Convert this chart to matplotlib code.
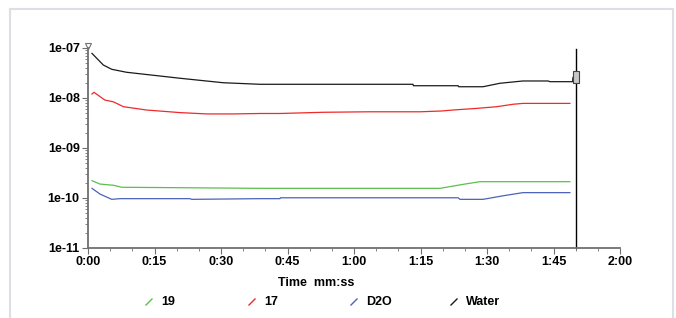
import numpy as np
import matplotlib
matplotlib.use("Agg")
import matplotlib.pyplot as plt
from matplotlib.ticker import FixedLocator, FuncFormatter, LogLocator, NullFormatter
from matplotlib.patches import Rectangle
from matplotlib.lines import Line2D
from matplotlib.path import Path

plt.rcParams['font.family'] = ['Liberation Sans', 'DejaVu Sans']

# time in seconds
t_water = [0.9, 3.45, 5.35, 8.7, 20.8, 30.5, 38.8, 73.3, 73.4, 83.5, 83.6, 89.1, 92.9, 98.1, 103.8, 104.2, 108.7, 109.3, 109.4, 110]
water = [7.8e-8, 4.57e-8, 3.75e-8, 3.27e-8, 2.48e-8, 2.02e-8, 1.88e-8, 1.88e-8, 1.76e-8, 1.76e-8, 1.68e-8, 1.68e-8,
         1.97e-8, 2.19e-8, 2.19e-8, 2.12e-8, 2.12e-8, 2.12e-8, 2.6e-8, 2.6e-8]

t_17 = [0.9, 1.35, 3.8, 5.7, 8.0, 13.2, 20.8, 26.8, 32.7, 38.8, 43.3, 53, 63.4, 74.9, 79.8, 82.3, 87.7, 92.2, 95.9, 98.1, 108.7]
v_17 = [1.2e-8, 1.3e-8, 9.1e-9, 8.4e-9, 6.7e-9, 5.75e-9, 5.1e-9, 4.8e-9, 4.8e-9, 4.9e-9, 4.9e-9, 5.18e-9, 5.3e-9,
        5.3e-9, 5.5e-9, 5.75e-9, 6.2e-9, 6.7e-9, 7.5e-9, 7.8e-9, 7.8e-9]

t_19 = [0.9, 2.7, 5.7, 7.6, 38.8, 77.1, 79.4, 84.7, 88.4, 108.7]
v_19 = [2.22e-10, 1.9e-10, 1.8e-10, 1.64e-10, 1.56e-10, 1.56e-10, 1.56e-10, 1.88e-10, 2.12e-10, 2.12e-10]

t_d2o = [0.9, 2.7, 5.35, 7.2, 23.0, 23.4, 38.8, 43.3, 43.4, 83.5, 83.9, 89.1, 93.7, 98.1, 108.7]
v_d2o = [1.56e-10, 1.2e-10, 9.4e-11, 9.7e-11, 9.7e-11, 9.4e-11, 9.7e-11, 9.7e-11, 1.01e-10, 1.01e-10, 9.4e-11,
         9.4e-11, 1.11e-10, 1.28e-10, 1.28e-10]

names = ['19', '17', 'D2O', 'Water']
colors = ['#5cbf4c', '#ee2a2a', '#4c62b8', '#1a1a1a']
series = [(t_19, v_19), (t_17, v_17), (t_d2o, v_d2o), (t_water, water)]

cursor_t = 110
x_ticks = [0, 15, 30, 45, 60, 75, 90, 105, 120]

fig = plt.figure(figsize=(6.76, 3.18), dpi=100)
ax = fig.add_axes([88/676, 1 - 248/318, 532/676, 200/318])

for (t, v), c in zip(series, colors):
    ax.plot(t, v, color=c, lw=0.9)

ax.set_yscale('log')
ax.set_ylim(1e-11, 1e-7)
ax.set_xlim(0, 120)

ax.xaxis.set_major_locator(FixedLocator(x_ticks))
ax.xaxis.set_minor_locator(FixedLocator(np.arange(0, 121, 5)))
ax.xaxis.set_major_formatter(FuncFormatter(lambda s, p: f"{int(s)//60}:{int(s)%60:02d}"))
ax.yaxis.set_major_locator(LogLocator(base=10, numticks=10))
ax.yaxis.set_minor_locator(LogLocator(base=10, subs=np.arange(2, 10), numticks=20))
ax.yaxis.set_minor_formatter(NullFormatter())
ax.yaxis.set_major_formatter(FuncFormatter(lambda v, p: f"{v:.0e}"))

for s in ['top', 'right']:
    ax.spines[s].set_visible(False)
for s in ['left', 'bottom']:
    ax.spines[s].set_color('#707070')
    ax.spines[s].set_linewidth(1.3)
ax.tick_params(which='major', length=4, color='#707070', labelsize=9, pad=2)
ax.tick_params(which='minor', length=2, color='#707070')
for lab in ax.get_xticklabels() + ax.get_yticklabels():
    lab.set_fontweight('bold')

# cursor line and marker
ax.plot([cursor_t, cursor_t], [1e-11, 9.6e-8], color='black', lw=1, clip_on=False)
rect = Path([(-0.5, -1), (0.5, -1), (0.5, 1), (-0.5, 1), (-0.5, -1)])
ax.plot([cursor_t], [water[-1]], marker=rect, ms=8, mfc='#c8c8c8', mec='#444444', mew=0.8, clip_on=False)
ax.plot([0], [1.12e-7], marker='v', ms=5, mfc='white', mec='#707070', mew=0.8, clip_on=False)

fig.text(316.5/676, 1 - 283/318, 'Time  mm:ss', ha='center', va='center', fontsize=9, fontweight='bold')

# legend
leg_x = [149, 252, 354, 454]
for x, name, c in zip(leg_x, names, colors):
    fig.add_artist(Line2D([(x - 3)/676, (x + 3)/676], [1 - 305/318, 1 - 299/318], color=c, lw=1))
    fig.text((x + 12)/676, 1 - 302/318, name, ha='left', va='center', fontsize=9, fontweight='bold')

# outer panel frame
fig.add_artist(Rectangle((10/676, -0.1), 663/676, 1.1 - 9/318, fill=False, ec='#dcdfe4', lw=1.5,
                         transform=fig.transFigure))

fig.savefig('out.png', dpi=100)
